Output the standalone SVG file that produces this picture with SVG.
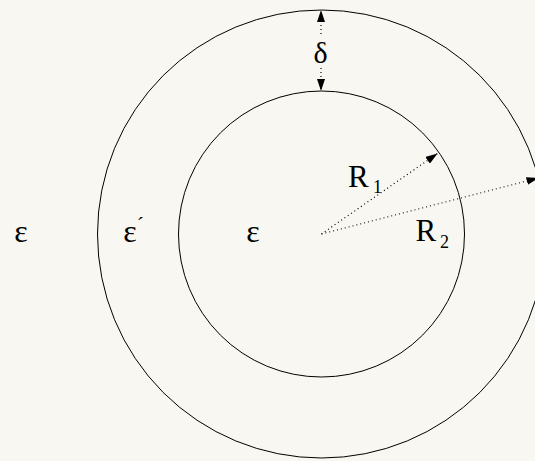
<svg xmlns="http://www.w3.org/2000/svg" width="535" height="461" viewBox="0 0 535 461">
<style>
.c{fill:none;stroke:#000;stroke-width:1}
.d{fill:none;stroke:#000;stroke-width:1.2;stroke-dasharray:1 3}
.t{font-family:"Liberation Serif","Times New Roman",serif;fill:#000}
</style>
<defs>
<marker id="ah" viewBox="0 0 12 8" refX="12" refY="4" markerWidth="12" markerHeight="8" markerUnits="userSpaceOnUse" orient="auto">
<path d="M0,0 L12,4 L0,8 Z" fill="#000"/>
</marker>
</defs>
<rect width="535" height="461" fill="#f8f7f1"/>
<g id="outer"><circle class="c" cx="321.5" cy="234" r="224"/></g>
<g id="inner"><circle class="c" cx="321.5" cy="234" r="143"/></g>
<g id="connectors">
<line class="d" x1="321.5" y1="234" x2="437.5" y2="153.5" marker-end="url(#ah)"/>
<line class="d" x1="321.5" y1="234" x2="538.5" y2="178" marker-end="url(#ah)"/>
<line class="d" x1="321" y1="34" x2="321" y2="10" marker-end="url(#ah)"/>
<line class="d" x1="321" y1="68" x2="321" y2="91" marker-end="url(#ah)"/>
</g>
<g id="labels">
<text class="t" x="320.5" y="63" font-size="30" text-anchor="middle">δ</text>
<text class="t" x="348" y="187" font-size="31">R</text>
<text class="t" x="373" y="193" font-size="18">1</text>
<text class="t" x="415.5" y="241" font-size="31">R</text>
<text class="t" x="440" y="248" font-size="18">2</text>
<text class="t" x="21" y="242" font-size="32" text-anchor="middle">ε</text>
<text class="t" x="130" y="242" font-size="32" text-anchor="middle">ε</text>
<text class="t" x="140.5" y="232" font-size="22" text-anchor="middle">´</text>
<text class="t" x="253" y="242" font-size="32" text-anchor="middle">ε</text>
</g>
</svg>
